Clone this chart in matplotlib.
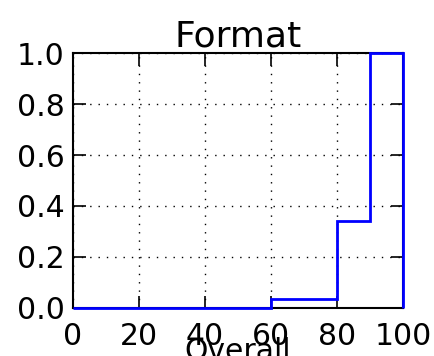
import matplotlib
matplotlib.use("Agg")
import matplotlib.pyplot as plt

# cumulative share of "Overall" scores, step edges and levels
edges = [0, 60, 80, 90, 100]
cum_frac = [0.0, 0.034, 0.34, 1.0]
x_ticks = [0, 20, 40, 60, 80, 100]
y_ticks = [0.0, 0.2, 0.4, 0.6, 0.8, 1.0]

plt.rcParams['font.family'] = 'DejaVu Sans'

fig = plt.figure(figsize=(4.34, 3.56), dpi=100)
ax = fig.add_axes([0.168, 0.135, 0.761, 0.716])

ax.stairs(cum_frac, edges, baseline=0, color='#0000ff', lw=2.0,
          zorder=3, clip_on=False)

ax.set_xlim(0, 100)
ax.set_ylim(0, 1.0)
ax.set_xticks(x_ticks)
ax.set_yticks(y_ticks)
ax.set_yticklabels(['%.1f' % v for v in y_ticks])
ax.tick_params(direction='in', length=9, width=1.2, labelsize=21.5,
               top=True, right=True)
ax.tick_params(axis='x', pad=10)
ax.tick_params(axis='y', pad=6)
ax.grid(True, color='k', linestyle=(0, (1, 5)), lw=1.0)
for s in ax.spines.values():
    s.set_linewidth(1.5)

ax.set_title('Format', fontsize=26, pad=5)
ax.set_xlabel('Overall', fontsize=21.5, labelpad=-10)

plt.savefig('out.png', dpi=100)
